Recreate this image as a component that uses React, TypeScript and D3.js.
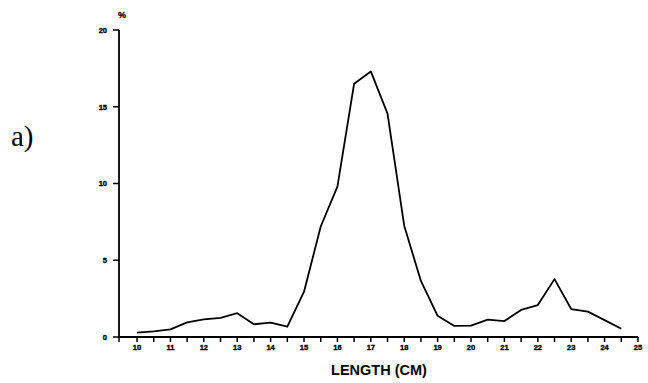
import React from "react";
import * as d3 from "d3";

const lengths: number[] = [10, 10.5, 11, 11.5, 12, 12.5, 13, 13.5, 14, 14.5, 15, 15.5, 16, 16.5, 17, 17.5, 18, 18.5, 19, 19.5, 20, 20.5, 21, 21.5, 22, 22.5, 23, 23.5, 24, 24.5];
const percents: number[] = [0.28, 0.37, 0.5, 0.95, 1.15, 1.25, 1.55, 0.83, 0.93, 0.67, 2.95, 7.2, 9.8, 16.5, 17.3, 14.55, 7.25, 3.65, 1.38, 0.72, 0.74, 1.13, 1.04, 1.76, 2.08, 3.77, 1.82, 1.65, 1.1, 0.54];
const xTickLabels: number[] = [10, 11, 12, 13, 14, 15, 16, 17, 18, 19, 20, 21, 22, 23, 24, 25];
const xMinorTicks: number[] = d3.range(10, 25.01, 0.5);
const yTickLabels: number[] = [0, 5, 10, 15, 20];

export default function App() {
  const W = 648, H = 383;
  const x = d3.scaleLinear().domain([9.46, 25]).range([119, 638]);
  const y = d3.scaleLinear().domain([0, 20]).range([337, 30]);
  const data = lengths.map((l, i) => [l, percents[i]] as [number, number]);
  const line = d3.line<[number, number]>().x(d => x(d[0])).y(d => y(d[1]));
  const tickFont = "'Liberation Sans', Arial, sans-serif";
  return (
    <svg width={W} height={H} style={{ position: "absolute", left: 0, top: 0, background: "#fff" }}>
      <rect width={W} height={H} fill="#fff" />
      <text x={11} y={146} fontFamily="'Liberation Serif', 'Times New Roman', serif" fontSize={29} fill="#000">a)</text>
      {/* y axis */}
      <line x1={x(9.46)} x2={x(9.46)} y1={y(20)} y2={y(0) + 1} stroke="#000" strokeWidth={1.8} />
      {yTickLabels.map(v => (
        <g key={"y" + v}>
          <line x1={x(9.46) - 6} x2={x(9.46)} y1={y(v)} y2={y(v)} stroke="#000" strokeWidth={1.5} />
          <text x={x(9.46) - 12} y={y(v) + 2.8} textAnchor="end" fontFamily={tickFont} fontWeight="bold" fontSize={7.5} stroke="#000" strokeWidth={0.35} fill="#000">{v}</text>
        </g>
      ))}
      <text x={122} y={18} textAnchor="middle" fontFamily={tickFont} fontWeight="bold" fontSize={9} stroke="#000" strokeWidth={0.3} fill="#000">%</text>
      {/* x axis */}
      <line x1={x(9.46) - 1} x2={x(25)} y1={y(0)} y2={y(0)} stroke="#000" strokeWidth={1.8} />
      <line x1={x(9.46)} x2={x(9.46)} y1={y(0)} y2={y(0) + 5} stroke="#000" strokeWidth={1.5} />
      {xMinorTicks.map(v => (
        <line key={"t" + v} x1={x(v)} x2={x(v)} y1={y(0)} y2={y(0) + 5} stroke="#000" strokeWidth={1.5} />
      ))}
      {xTickLabels.map(v => (
        <text key={"xl" + v} x={x(v)} y={y(0) + 12.5} textAnchor="middle" fontFamily={tickFont} fontWeight="bold" fontSize={7.5} stroke="#000" strokeWidth={0.35} fill="#000">{v}</text>
      ))}
      <text x={379} y={375} textAnchor="middle" fontFamily={tickFont} fontWeight="bold" fontSize={14.5} fill="#000">LENGTH (CM)</text>
      <path d={line(data) || ""} fill="none" stroke="#000" strokeWidth={1.8} strokeLinejoin="round" />
    </svg>
  );
}
